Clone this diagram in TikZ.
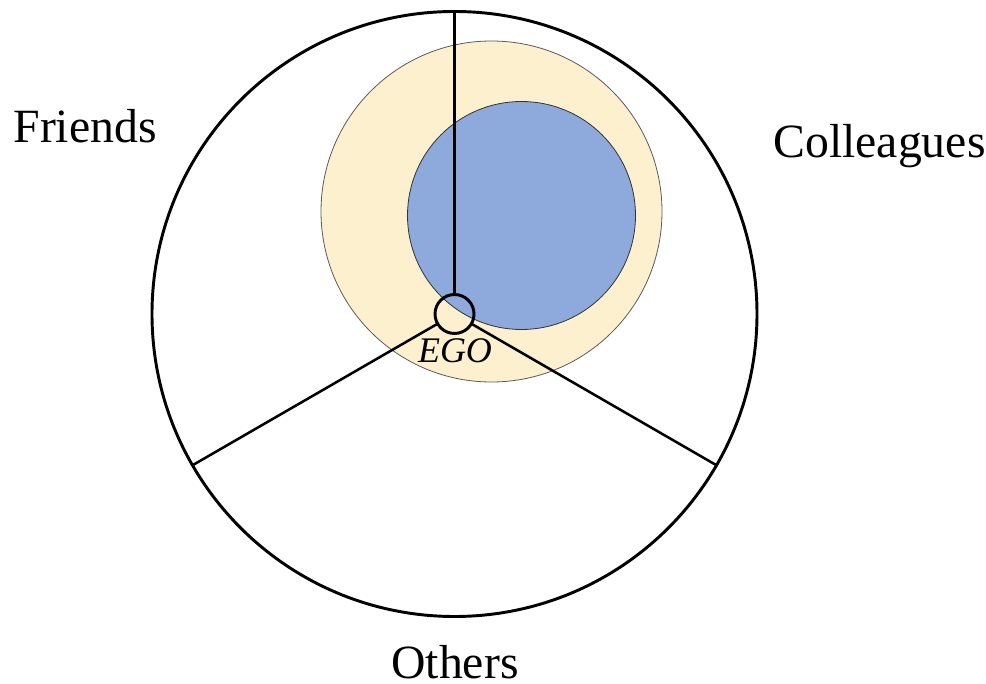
\documentclass[tikz,border=0pt]{standalone}
\usepackage{fontspec}
\setmainfont{Liberation Serif}
\usetikzlibrary{positioning}
\definecolor{cyellow}{HTML}{FDF0CF}
\definecolor{cblue}{HTML}{8EA9DB}
\definecolor{cgrey}{HTML}{5A5A5A}
\tikzset{
  every picture/.style={line width=2.2pt},
  ring/.style={circle, draw=#1, outer sep=0pt, inner sep=0pt},
  ring/.default=black,
  spoke/.style={draw=black, line width=1.9pt},
  label/.style={font=\fontsize{35.8}{40}\selectfont, inner sep=0pt},
  egotext/.style={font=\fontsize{27}{30}\selectfont\itshape, inner sep=0pt},
}

\begin{document}
\begin{tikzpicture}[x=0.75pt, y=-0.75pt]
  \useasboundingbox (0,0) rectangle (986,684);
  \node[ring, minimum size=453.75pt, fill=white] (outer) at (454.5,314) {};
  \node[ring=cgrey, line width=0.6pt, fill=cyellow, minimum size=255.75pt] (warm) at (491.5,211.5) {};
  \node[ring=black!80, line width=0.6pt, fill=cblue, minimum size=171pt] (core) at (521.5,215.5) {};
  \node[ring, minimum size=29.25pt] (ego) at (454.5,314) {};
  \draw[spoke] (ego.90) -- (outer.90);
  \draw[spoke] (ego.210) -- (outer.210);
  \draw[spoke] (ego.330) -- (outer.330);
  \node[egotext, anchor=base] (egolabel) at (455,363) {EGO};
  \node[label, anchor=base west] (friends) at (12,143) {Friends};
  \node[label, anchor=base west] (colleagues) at (772,158) {Colleagues};
  \node[label, anchor=base] (others) at (455,678) {Others};
\end{tikzpicture}
\end{document}
